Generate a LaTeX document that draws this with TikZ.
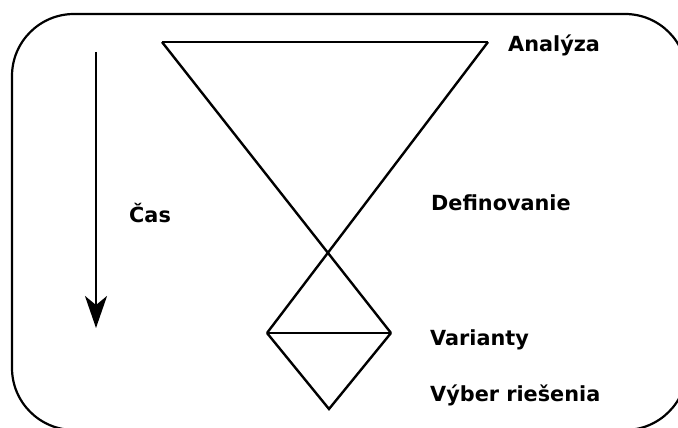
\documentclass[tikz,border=0pt]{standalone}
\usepackage{fontspec}
\setmainfont{DejaVu Sans}
\usetikzlibrary{arrows.meta}
\tikzset{
  lbl/.style={anchor=base west, inner sep=0pt, font=\fontsize{20.8}{24}\selectfont\bfseries},
  ln/.style={line width=2.4pt, line join=miter},
}
\begin{document}
\begin{tikzpicture}[x=1pt,y=-1pt]
\useasboundingbox (0,0) rectangle (678,428);
\clip (0,0) rectangle (678,428);
% frame
\draw[line width=2.2pt, rounded corners=62pt] (12,14) rectangle (687,430);
% funnel coordinates
\coordinate (tl) at (162,42);
\coordinate (tr) at (488,42);
\coordinate (L) at (267,333);
\coordinate (R) at (391,333);
\coordinate (B) at (329,409);
\draw[ln] (tl) -- (tr);
\draw[ln] (tl) -- (R);
\draw[ln] (tr) -- (L);
\draw[ln] (L) -- (R);
\draw[ln] (L) -- (B) -- (R);
% time arrow
\coordinate (a1) at (96,52);
\coordinate (a2) at (96,328);
\draw[line width=2.4pt, -{Stealth[length=32pt,width=22pt,inset=9pt]}] (a1) -- (a2);
% labels
\node[lbl] (analyza) at (508,52) {Analýza};
\node[lbl] (def) at (431,210) {Definovanie};
\node[lbl] (cas) at (129,222) {Čas};
\node[lbl] (var) at (430,345) {Varianty};
\node[lbl] (vyber) at (430,401) {Výber riešenia};
\end{tikzpicture}
\end{document}
